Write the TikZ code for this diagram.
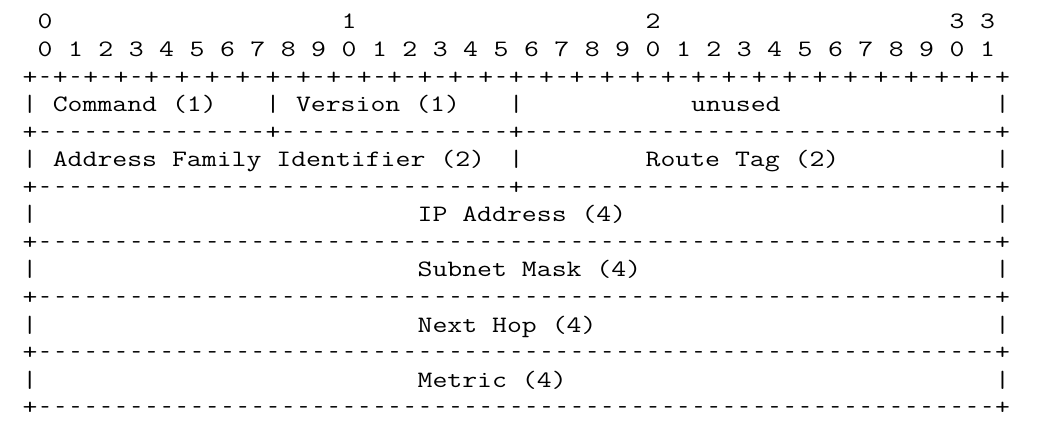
\documentclass[tikz,border=0pt]{standalone}
\usepackage{graphicx}
\usepackage{fontspec}
\newcommand\cw[1]{\scalebox{1.2317}[1]{#1}}
\newcommand\chbox[1]{\hbox to 0.525em{\hss#1\hss}}
\newcommand\dashch{\chbox{\scalebox{0.6}[1]{-}}}
\newcommand\dashrun[1]{\foreach \k in {1,...,#1}{\dashch}}
\begin{document}
\begin{tikzpicture}[x=15.2pt,y=-27.55pt,
  txt/.style={font=\ttfamily\fontsize{23.5pt}{27.55pt}\selectfont,
    inner sep=0pt, outer sep=0pt, anchor=base west, text=black}]
\useasboundingbox[fill=white] (-22.4pt,29pt) rectangle (1016.6pt,-396pt);
% bit numbers
\node[txt] (d0) at (1,0) {\cw{0}};
\node[txt] (d1) at (21,0) {\cw{1}};
\node[txt] (d2) at (41,0) {\cw{2}};
\node[txt] (d3) at (61,0) {\cw{3}};
\node[txt] (d4) at (63,0) {\cw{3}};
\foreach \i in {0,...,31}{
  \pgfmathtruncatemacro{\dg}{mod(\i,10)}
  \pgfmathtruncatemacro{\cl}{2*\i+1}
  \node[txt] (b\i) at (\cl,1) {\cw{\dg}};
}
% top ruler
\node[txt] (r2) at (0,2) {\cw{\foreach \k in {1,...,32}{\chbox{+}\dashch}\chbox{+}}};
% row: command / version / unused
\node[txt] (v3a) at (0,3) {\cw{|}};
\node[txt] (cmd) at (2,3) {\cw{Command (1)}};
\node[txt] (v3b) at (16,3) {\cw{|}};
\node[txt] (ver) at (18,3) {\cw{Version (1)}};
\node[txt] (v3c) at (32,3) {\cw{|}};
\node[txt] (unu) at (44,3) {\cw{unused}};
\node[txt] (v3d) at (64,3) {\cw{|}};
\node[txt] (r4) at (0,4) {\cw{\chbox{+}\dashrun{15}\chbox{+}\dashrun{15}\chbox{+}\dashrun{31}\chbox{+}}};
% row: AFI / route tag
\node[txt] (v5a) at (0,5) {\cw{|}};
\node[txt] (afi) at (2,5) {\cw{Address Family Identifier (2)}};
\node[txt] (v5b) at (32,5) {\cw{|}};
\node[txt] (tag) at (41,5) {\cw{Route Tag (2)}};
\node[txt] (v5c) at (64,5) {\cw{|}};
\node[txt] (r6) at (0,6) {\cw{\chbox{+}\dashrun{31}\chbox{+}\dashrun{31}\chbox{+}}};
% full-width rows
\node[txt] (v7a) at (0,7) {\cw{|}};
\node[txt] (ipa) at (26,7) {\cw{IP Address (4)}};
\node[txt] (v7b) at (64,7) {\cw{|}};
\node[txt] (r8) at (0,8) {\cw{\chbox{+}\dashrun{63}\chbox{+}}};
\node[txt] (v9a) at (0,9) {\cw{|}};
\node[txt] (snm) at (26,9) {\cw{Subnet Mask (4)}};
\node[txt] (v9b) at (64,9) {\cw{|}};
\node[txt] (r10) at (0,10) {\cw{\chbox{+}\dashrun{63}\chbox{+}}};
\node[txt] (v11a) at (0,11) {\cw{|}};
\node[txt] (nhp) at (26,11) {\cw{Next Hop (4)}};
\node[txt] (v11b) at (64,11) {\cw{|}};
\node[txt] (r12) at (0,12) {\cw{\chbox{+}\dashrun{63}\chbox{+}}};
\node[txt] (v13a) at (0,13) {\cw{|}};
\node[txt] (met) at (26,13) {\cw{Metric (4)}};
\node[txt] (v13b) at (64,13) {\cw{|}};
\node[txt] (r14) at (0,14) {\cw{\chbox{+}\dashrun{63}\chbox{+}}};
\end{tikzpicture}
\end{document}
